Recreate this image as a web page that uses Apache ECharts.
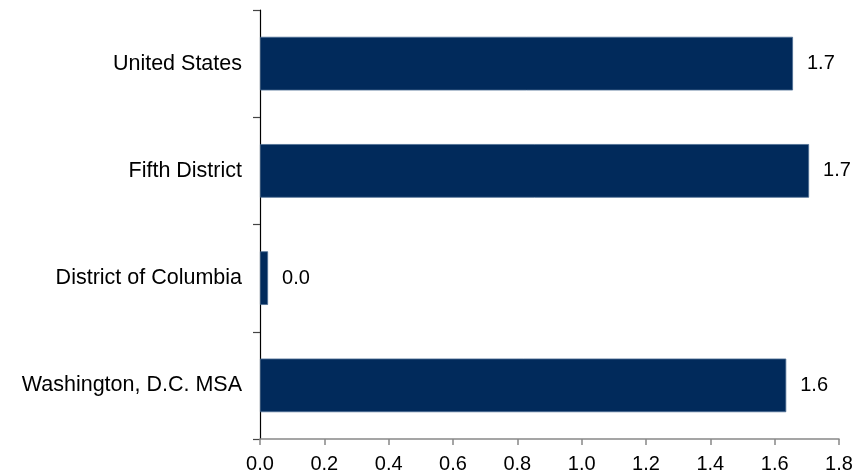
<!DOCTYPE html>
<html>
<head>
<meta charset="utf-8">
<script src="https://cdn.jsdelivr.net/npm/echarts@6/dist/echarts.min.js"></script>
<style>
html,body{margin:0;padding:0;background:#fff;}
#c{width:865px;height:476px;}
</style>
</head>
<body>
<div id="c"></div>
<script>
var categories = ['United States', 'Fifth District', 'District of Columbia', 'Washington, D.C. MSA'];
var values = [1.657, 1.707, 0.025, 1.636];
var xTicks = [0, 0.2, 0.4, 0.6, 0.8, 1.0, 1.2, 1.4, 1.6, 1.8];

var chart = echarts.init(document.getElementById('c'), null, {renderer: 'canvas'});
chart.setOption({
  animation: false,
  grid: {left: 260, top: 10, width: 579, bottom: 37, containLabel: false},
  xAxis: {
    type: 'value',
    min: xTicks[0],
    max: xTicks[xTicks.length - 1],
    interval: 0.2,
    splitLine: {show: false},
    axisLine: {show: true, lineStyle: {color: '#888888', width: 1.5}},
    axisTick: {show: true, length: 6, lineStyle: {color: '#888888', width: 1.5}},
    axisLabel: {
      color: '#000', fontFamily: 'Liberation Sans, Arial, sans-serif', fontSize: 20, margin: 15,
      formatter: function (v) { return v.toFixed(1); }
    }
  },
  yAxis: {
    type: 'category',
    data: categories,
    inverse: true,
    axisLine: {show: true, lineStyle: {color: '#000', width: 1.2}},
    axisTick: {show: true, length: 7, lineStyle: {color: '#444', width: 1.2}},
    axisLabel: {color: '#000', fontFamily: 'Liberation Sans, Arial, sans-serif', fontSize: 21.5, margin: 18}
  },
  series: [{
    type: 'bar',
    data: values,
    barCategoryGap: '50%',
    itemStyle: {color: '#012a5b', borderColor: '#4d6d93', borderWidth: 0.8},
    label: {
      show: true, position: 'right', distance: 14,
      color: '#000', fontFamily: 'Liberation Sans, Arial, sans-serif', fontSize: 20,
      formatter: function (p) { return p.value.toFixed(1); }
    }
  }]
});
</script>
</body>
</html>
